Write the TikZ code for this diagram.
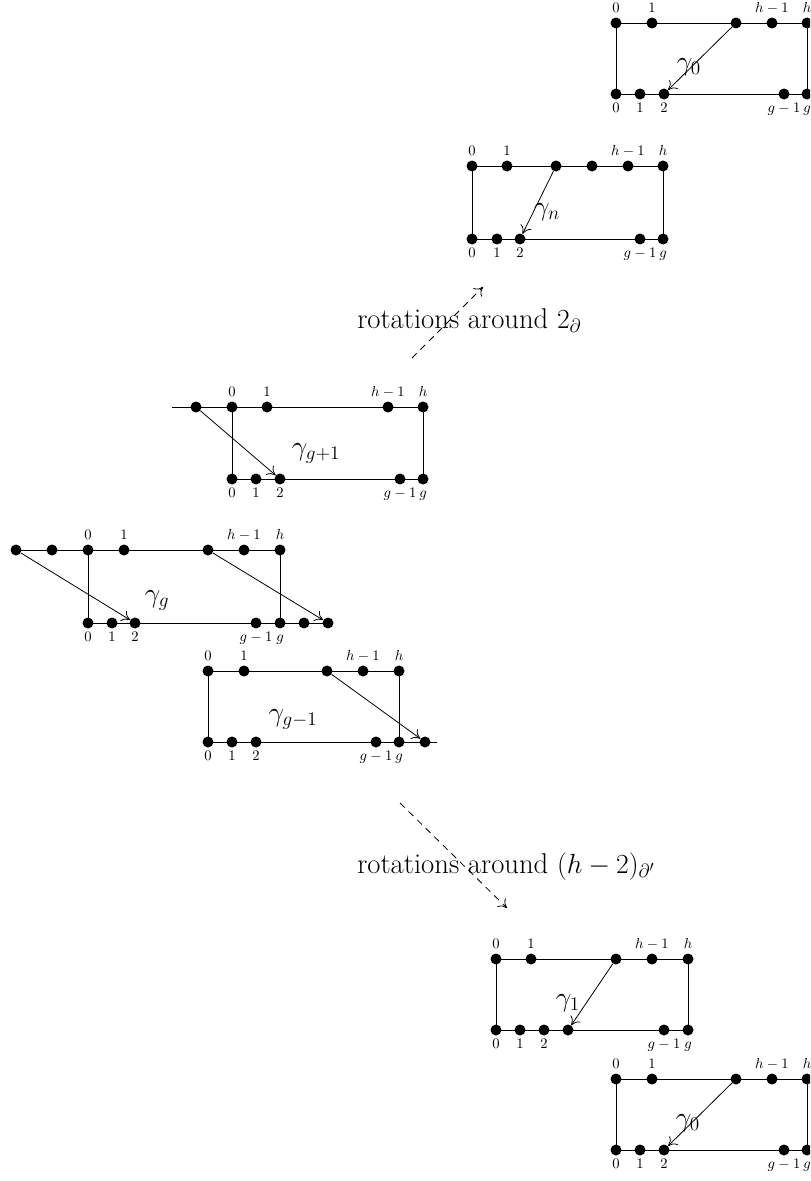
\documentclass[tikz,border=0pt]{standalone}
\usetikzlibrary{arrows.meta}
\tikzset{
  dot/.style={circle,fill=black,inner sep=0pt,minimum size=8.25pt},
  edge/.style={line width=0.6pt},
  arr/.style={line width=0.6pt,-{To[length=6pt,width=9pt]}},
  dasharr/.style={line width=0.6pt,dash pattern=on 5pt off 4pt,-{To[length=6pt,width=9pt]}},
  lab/.style={font=\fontsize{10.5}{12}\selectfont,inner sep=0pt,anchor=base},
  bigtext/.style={font=\fontsize{21}{25}\selectfont,inner sep=0pt},
  rottext/.style={font=\fontsize{21.5}{26}\selectfont,inner sep=0pt,anchor=base west},
}
\newcommand\toplab[2]{\node[lab] at ([yshift=8pt]#1.center) {#2};}
\newcommand\botlab[2]{\node[lab] at ([yshift=-13.7pt]#1.center) {#2};}
\begin{document}
\begin{tikzpicture}[x=0.75pt,y=-0.75pt]
\useasboundingbox (0,0) rectangle (810,1181);
\clip (0,0) rectangle (810,1181);

% ---------- Panel A (top) ----------
\node[dot] (A0) at (616,23) {};
\node[dot] (A1) at (652,23) {};
\node[dot] (Ax) at (736,23) {};
\node[dot] (Ah1) at (772,23) {};
\node[dot] (Ah) at (807,23) {};
\node[dot] (Ab0) at (616,94) {};
\node[dot] (Ab1) at (640,94) {};
\node[dot] (Ab2) at (664,94) {};
\node[dot] (Abg1) at (784,94) {};
\node[dot] (Abg) at (807,94) {};
\draw[edge] (A0.center) -- (Ah.center) -- (Abg.center) -- (Ab0.center) -- cycle;
\draw[arr] (Ax) -- (Ab2);
\node[bigtext] (gA) at (689,67) {$\gamma_0$};
\toplab{A0}{$0$}\toplab{A1}{$1$}\toplab{Ah1}{$h-1$}\toplab{Ah}{$h$}
\botlab{Ab0}{$0$}\botlab{Ab1}{$1$}\botlab{Ab2}{$2$}\botlab{Abg1}{$g-1$}\botlab{Abg}{$g$}

% ---------- Panel B ----------
\node[dot] (B0) at (472,166) {};
\node[dot] (B1) at (507,166) {};
\node[dot] (Bx) at (556,166) {};
\node[dot] (By) at (592,166) {};
\node[dot] (Bh1) at (628,166) {};
\node[dot] (Bh) at (663,166) {};
\node[dot] (Bb0) at (472,239) {};
\node[dot] (Bb1) at (497,239) {};
\node[dot] (Bb2) at (520,239) {};
\node[dot] (Bbg1) at (640,239) {};
\node[dot] (Bbg) at (663,239) {};
\draw[edge] (B0.center) -- (Bh.center) -- (Bbg.center) -- (Bb0.center) -- cycle;
\draw[arr] (Bx) -- (Bb2);
\node[bigtext] (gB) at (547,212) {$\gamma_n$};
\toplab{B0}{$0$}\toplab{B1}{$1$}\toplab{Bh1}{$h-1$}\toplab{Bh}{$h$}
\botlab{Bb0}{$0$}\botlab{Bb1}{$1$}\botlab{Bb2}{$2$}\botlab{Bbg1}{$g-1$}\botlab{Bbg}{$g$}

% ---------- rotation arrow 1 ----------
\coordinate (r1s) at (412,358);
\coordinate (r1e) at (483,287);
\draw[dasharr] (r1s) -- (r1e);
\node[rottext] (rot1) at (357,328) {rotations around $2_\partial$};

% ---------- Panel C ----------
\coordinate (Cl) at (172,407);
\node[dot] (Cx) at (196,407) {};
\node[dot] (C0) at (232,407) {};
\node[dot] (C1) at (267,407) {};
\node[dot] (Ch1) at (388,407) {};
\node[dot] (Ch) at (423,407) {};
\node[dot] (Cb0) at (232,479) {};
\node[dot] (Cb1) at (256,479) {};
\node[dot] (Cb2) at (280,479) {};
\node[dot] (Cbg1) at (400,479) {};
\node[dot] (Cbg) at (423,479) {};
\draw[edge] (Cl) -- (Ch.center) -- (Cbg.center) -- (Cb0.center) -- (C0.center);
\draw[arr] (Cx) -- (Cb2);
\node[bigtext] (gC) at (316,453) {$\gamma_{g+1}$};
\toplab{C0}{$0$}\toplab{C1}{$1$}\toplab{Ch1}{$h-1$}\toplab{Ch}{$h$}
\botlab{Cb0}{$0$}\botlab{Cb1}{$1$}\botlab{Cb2}{$2$}\botlab{Cbg1}{$g-1$}\botlab{Cbg}{$g$}

% ---------- Panel D ----------
\node[dot] (Dx) at (16,550) {};
\node[dot] (Dy) at (52,550) {};
\node[dot] (D0) at (88,550) {};
\node[dot] (D1) at (124,550) {};
\node[dot] (Dz) at (208,550) {};
\node[dot] (Dh1) at (244,550) {};
\node[dot] (Dh) at (280,550) {};
\node[dot] (Db0) at (88,623) {};
\node[dot] (Db1) at (112,623) {};
\node[dot] (Db2) at (135,623) {};
\node[dot] (Dbg1) at (256,623) {};
\node[dot] (Dbg) at (280,623) {};
\node[dot] (Dbu) at (304,623) {};
\node[dot] (Dbv) at (328,623) {};
\draw[edge] (Dx.center) -- (Dh.center) -- (Dbg.center);
\draw[edge] (D0.center) -- (Db0.center) -- (Dbv.center);
\draw[arr] (Dx) -- (Db2);
\draw[arr] (Dz) -- (Dbv);
\node[bigtext] (gD) at (157,600) {$\gamma_g$};
\toplab{D0}{$0$}\toplab{D1}{$1$}\toplab{Dh1}{$h-1$}\toplab{Dh}{$h$}
\botlab{Db0}{$0$}\botlab{Db1}{$1$}\botlab{Db2}{$2$}\botlab{Dbg1}{$g-1$}\botlab{Dbg}{$g$}

% ---------- Panel E ----------
\node[dot] (E0) at (208,671) {};
\node[dot] (E1) at (244,671) {};
\node[dot] (Ex) at (327,671) {};
\node[dot] (Eh1) at (363,671) {};
\node[dot] (Eh) at (399,671) {};
\node[dot] (Eb0) at (208,742) {};
\node[dot] (Eb1) at (232,742) {};
\node[dot] (Eb2) at (256,742) {};
\node[dot] (Ebg1) at (376,742) {};
\node[dot] (Ebg) at (399,742) {};
\node[dot] (Ebu) at (425,742) {};
\coordinate (Er) at (437,742);
\draw[edge] (Eb0.center) -- (E0.center) -- (Eh.center) -- (Ebg.center);
\draw[edge] (Eb0.center) -- (Er);
\draw[arr] (Ex) -- (Ebu);
\node[bigtext] (gE) at (293,719) {$\gamma_{g-1}$};
\toplab{E0}{$0$}\toplab{E1}{$1$}\toplab{Eh1}{$h-1$}\toplab{Eh}{$h$}
\botlab{Eb0}{$0$}\botlab{Eb1}{$1$}\botlab{Eb2}{$2$}\botlab{Ebg1}{$g-1$}\botlab{Ebg}{$g$}

% ---------- rotation arrow 2 ----------
\coordinate (r2s) at (400,803);
\coordinate (r2e) at (507,908);
\draw[dasharr] (r2s) -- (r2e);
\node[rottext] (rot2) at (357,873) {rotations around $(h-2)_{\partial'}$};

% ---------- Panel F ----------
\node[dot] (F0) at (496,959) {};
\node[dot] (F1) at (531,959) {};
\node[dot] (Fx) at (616,959) {};
\node[dot] (Fh1) at (652,959) {};
\node[dot] (Fh) at (688,959) {};
\node[dot] (Fb0) at (496,1030) {};
\node[dot] (Fb1) at (520,1030) {};
\node[dot] (Fb2) at (544,1030) {};
\node[dot] (Fb3) at (568,1030) {};
\node[dot] (Fbg1) at (664,1030) {};
\node[dot] (Fbg) at (688,1030) {};
\draw[edge] (F0.center) -- (Fh.center) -- (Fbg.center) -- (Fb0.center) -- cycle;
\draw[arr] (Fx) -- (Fb3);
\node[bigtext] (gF) at (568,1003) {$\gamma_1$};
\toplab{F0}{$0$}\toplab{F1}{$1$}\toplab{Fh1}{$h-1$}\toplab{Fh}{$h$}
\botlab{Fb0}{$0$}\botlab{Fb1}{$1$}\botlab{Fb2}{$2$}\botlab{Fbg1}{$g-1$}\botlab{Fbg}{$g$}

% ---------- Panel G (bottom) ----------
\node[dot] (G0) at (616,1079) {};
\node[dot] (G1) at (652,1079) {};
\node[dot] (Gx) at (736,1079) {};
\node[dot] (Gh1) at (772,1079) {};
\node[dot] (Gh) at (807,1079) {};
\node[dot] (Gb0) at (616,1150) {};
\node[dot] (Gb1) at (640,1150) {};
\node[dot] (Gb2) at (664,1150) {};
\node[dot] (Gbg1) at (784,1150) {};
\node[dot] (Gbg) at (807,1150) {};
\draw[edge] (G0.center) -- (Gh.center) -- (Gbg.center) -- (Gb0.center) -- cycle;
\draw[arr] (Gx) -- (Gb2);
\node[bigtext] (gG) at (688,1123) {$\gamma_0$};
\toplab{G0}{$0$}\toplab{G1}{$1$}\toplab{Gh1}{$h-1$}\toplab{Gh}{$h$}
\botlab{Gb0}{$0$}\botlab{Gb1}{$1$}\botlab{Gb2}{$2$}\botlab{Gbg1}{$g-1$}\botlab{Gbg}{$g$}
\end{tikzpicture}
\end{document}
